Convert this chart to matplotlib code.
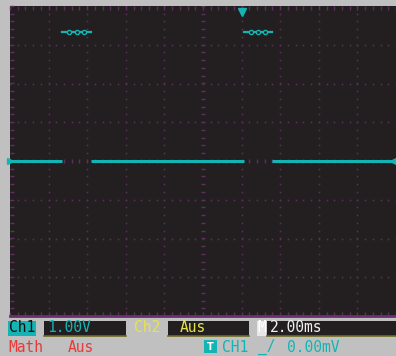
import numpy as np
import matplotlib.pyplot as plt
from matplotlib.patches import Rectangle

W, H = 396, 356

# scope settings
time_div_ms = 2.0
volt_div = 1.0
n_xdiv, n_ydiv = 10, 8

# CH1 trace: flat at 0 V, broken twice
trace_start_ms = [-10.0, -5.8, 3.6]
trace_end_ms = [-7.3, 2.1, 10.0]
trace_level_v = 0.0

# small burst marks above the two gaps
burst_start_ms = [-7.3, 2.1]
burst_end_ms = [-5.8, 3.6]
burst_level_v = 3.33

trigger_pos_ms = 2.0

# status bar texts
ch1_scale = '1.00V'
ch2_state = 'Aus'
timebase = '2.00ms'
math_state = 'Aus'
trig_source = 'CH1'
trig_level = '0.00mV'

bg_dark = '#231f20'
grid_col = '#5e2f5e'
cyan = '#14b4b4'
gray = '#c0c0c0'
red = '#e83a3a'
yellow = '#e4e44a'
olive = '#6e6a1e'

fig = plt.figure(figsize=(W / 100, H / 100), dpi=100, facecolor=gray)

# ---- scope screen -------------------------------------------------------
ax = fig.add_axes([10 / W, 40 / H, 386 / W, 310 / H])
ax.set_facecolor(bg_dark)
xmax = time_div_ms * n_xdiv / 2
ymax = volt_div * n_ydiv / 2
ax.set_xlim(-xmax, xmax)
ax.set_ylim(-ymax, ymax)
ax.set_xticks([])
ax.set_yticks([])
for s in ['top', 'left', 'right']:
    ax.spines[s].set_visible(False)
ax.spines['bottom'].set_color('#6a3070')
ax.spines['bottom'].set_linewidth(2)

xs_minor = np.arange(-xmax, xmax + 1e-6, time_div_ms / 5)
ys_minor = np.arange(-ymax, ymax + 1e-6, volt_div / 5)
xs_major = np.arange(-xmax + time_div_ms, xmax - 1e-6, time_div_ms)
ys_major = np.arange(-ymax + volt_div, ymax - 1e-6, volt_div)

# dotted graticule
for xv in xs_major:
    if abs(xv) > 1e-6:
        ax.plot(np.full_like(ys_minor, xv), ys_minor, ls='none', marker='s',
                ms=1.1, mew=0, color=grid_col, zorder=1)
for yv in ys_major:
    if abs(yv) > 1e-6:
        ax.plot(xs_minor, np.full_like(xs_minor, yv), ls='none', marker='s',
                ms=1.1, mew=0, color=grid_col, zorder=1)

# centre cross ticks
ax.plot(xs_minor, np.zeros_like(xs_minor), ls='none', marker='|', ms=3,
        mew=1, color=grid_col, zorder=1)
ax.plot(np.zeros_like(ys_minor), ys_minor, ls='none', marker='_', ms=3,
        mew=1, color=grid_col, zorder=1)
# border ticks, pointing inwards
ax.plot(xs_minor, np.full_like(xs_minor, ymax), ls='none', marker=3, ms=3,
        mew=1, color=grid_col, zorder=1, clip_on=False)
ax.plot(xs_minor, np.full_like(xs_minor, -ymax), ls='none', marker=2, ms=3,
        mew=1, color=grid_col, zorder=1, clip_on=False)
ax.plot(np.full_like(ys_minor, -xmax), ys_minor, ls='none', marker=1, ms=3,
        mew=1, color=grid_col, zorder=1, clip_on=False)

# trace
for t0, t1 in zip(trace_start_ms, trace_end_ms):
    ax.plot([t0, t1], [trace_level_v, trace_level_v], color=cyan, lw=2.2,
            solid_capstyle='butt', zorder=3)
# burst marks
for t0, t1 in zip(burst_start_ms, burst_end_ms):
    ax.plot([t0, t1], [burst_level_v, burst_level_v], color=cyan, lw=1.6,
            zorder=3)
    ax.plot(np.linspace(t0, t1, 5)[1:-1], np.full(3, burst_level_v), ls='none',
            marker='o', ms=3, mfc=bg_dark, mec=cyan, mew=1, zorder=4)

# markers: trigger position, channel ground, trigger level
ax.plot([trigger_pos_ms], [ymax - 0.15], marker='v', ms=5.5, color=cyan,
        clip_on=False, zorder=5)
ax.plot([-xmax], [trace_level_v], marker='>', ms=5, color=cyan,
        clip_on=False, zorder=5)
ax.plot([xmax - 0.1], [trace_level_v], marker='<', ms=6, color=cyan,
        clip_on=False, zorder=5)

# ---- status bar ---------------------------------------------------------
sb = fig.add_axes([0, 0, 1, 38 / H])
sb.set_xlim(0, W)
sb.set_ylim(356, 318)
sb.axis('off')
sb.patch.set_alpha(0)

font = dict(family='DejaVu Sans Mono', fontsize=10.5, va='center')

def box(x0, x1, y0, y1, fc, ec=None):
    sb.add_patch(Rectangle((x0, y0), x1 - x0, y1 - y0, facecolor=fc,
                           edgecolor='none', zorder=1))
    if ec:
        sb.plot([x0, x1], [y1, y1], color=ec, lw=1.2, zorder=2)

row1 = 328
row2 = 347
box(8, 36, 321, 336, cyan)
sb.text(8.5, row1, 'Ch1', color='#101010', **font)
box(44, 126, 321, 336, bg_dark, olive)
sb.text(47, row1, ch1_scale, color=cyan, **font)
sb.text(134, row1, 'Ch2', color=yellow, **font)
box(168, 249, 321, 336, bg_dark, olive)
sb.text(180, row1, ch2_state, color=yellow, **font)
box(257, 266, 321, 336, '#e8e8e8')
sb.text(257, row1, 'M', color='#ffffff', fontstretch='condensed', **font)
box(267, 396, 321, 336, bg_dark, olive)
sb.text(270, row1, timebase, color='#f0f0f0', **font)

sb.text(8.5, row2, 'Math', color=red, **font)
sb.text(68, row2, math_state, color=red, **font)
box(204, 217, 340, 353, cyan)
sb.text(210.5, row2, 'T', color='white', ha='center', family='DejaVu Sans',
        fontsize=7, fontweight='bold', va='center')
sb.text(222, row2, trig_source, color=cyan, **font)
sb.text(258, row2, '_/', color=cyan, **font)
sb.text(287, row2, trig_level, color=cyan, **font)

fig.savefig('out.png', dpi=100, facecolor=gray)
